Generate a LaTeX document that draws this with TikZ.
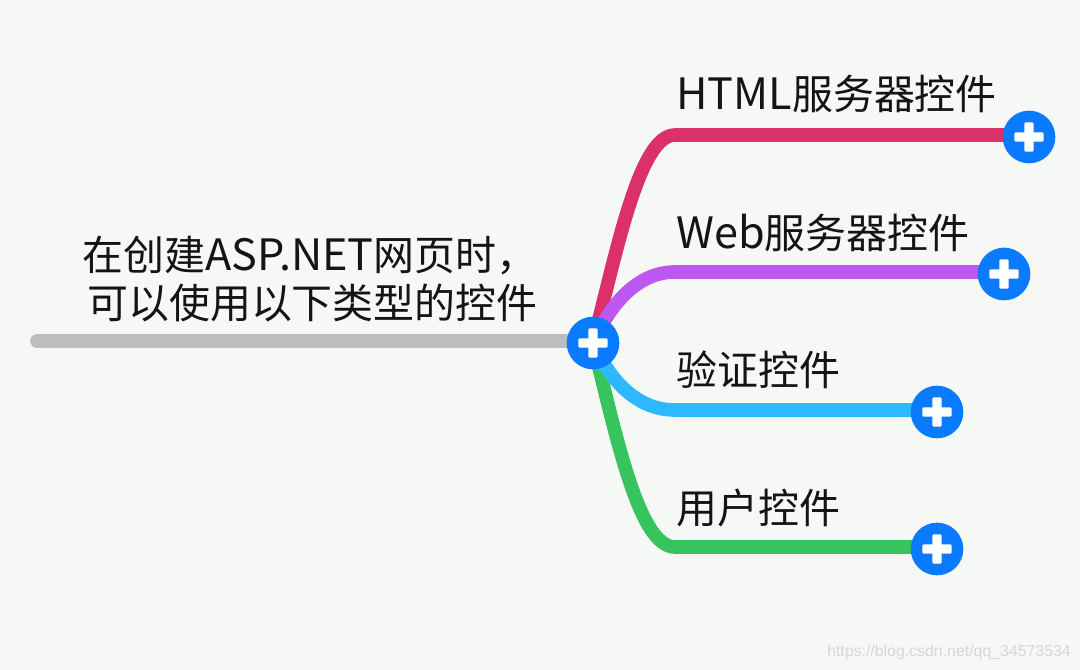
\documentclass[tikz,border=0pt]{standalone}
\usepackage{fontspec}
\setmainfont{Noto Sans CJK SC}
\newfontfamily\wmfont{Liberation Sans}
\newcommand{\lat}[1]{{\fontsize{32.4}{37}\selectfont #1}}
\definecolor{bgc}{HTML}{F6F8F6}
\definecolor{blueb}{HTML}{0A7BFF}
\definecolor{c1}{HTML}{DB3069}
\definecolor{c2}{HTML}{BC57F0}
\definecolor{c3}{HTML}{2DB8FF}
\definecolor{c4}{HTML}{37C45E}
\definecolor{c0}{HTML}{BDBDBD}
\tikzset{
 x=0.75pt,y=-0.75pt,
 branch/.style={line width=10.2pt,line cap=round},
 lbl/.style={font=\fontsize{30.7}{37}\selectfont,anchor=base west,inner sep=0pt,text=black!92},
 plusbtn/.style={circle,fill=blueb,draw=none,minimum size=39.5pt,inner sep=0pt,path picture={
   \fill[white,rounded corners=0.8pt] ([xshift=-11pt,yshift=-3.4pt]path picture bounding box.center) rectangle ++(22pt,6.8pt);
   \fill[white,rounded corners=0.8pt] ([xshift=-3.4pt,yshift=-11pt]path picture bounding box.center) rectangle ++(6.8pt,22pt);
 }},
}
\begin{document}
\begin{tikzpicture}
\useasboundingbox (0,0) rectangle (1080,670);
\fill[bgc] (0,0) rectangle (1080,670);
\coordinate (start) at (37,341);
\coordinate (hubc) at (593,343);
\coordinate (e1) at (675,135);
\coordinate (e2) at (675,272);
\coordinate (e3) at (675,410);
\coordinate (e4) at (675,547);
\coordinate (b1) at (1029,137);
\coordinate (b2) at (1004,274);
\coordinate (b3) at (937,412);
\coordinate (b4) at (937,549);
\draw[branch,c0] (start) -- (start -| hubc);
\draw[branch,c1] (hubc) .. controls (618,245) and (640,135) .. (e1) -- (e1 -| b1);
\draw[branch,c2] (hubc) .. controls (612,300) and (640,272) .. (e2) -- (e2 -| b2);
\draw[branch,c4] (hubc) .. controls (618,445) and (640,547) .. (e4) -- (e4 -| b4);
\draw[branch,c3] (hubc) .. controls (612,385) and (640,410) .. (e3) -- (e3 -| b3);
\node[plusbtn] (hub) at (hubc) {};
\node[plusbtn] (p1) at (b1) {};
\node[plusbtn] (p2) at (b2) {};
\node[plusbtn] (p3) at (b3) {};
\node[plusbtn] (p4) at (b4) {};
\node[lbl] (t1) at (676,110) {\lat{HTML}服务器控件};
\node[lbl] (t2) at (676,248) {\lat{Web}服务器控件};
\node[lbl] (t3) at (676,385) {验证控件};
\node[lbl] (t4) at (676,523) {用户控件};
\node[lbl] (m1) at (82,270) {在创建\lat{ASP.NET}网页时，};
\node[lbl] (m2) at (87,318) {可以使用以下类型的控件};
\node[anchor=base east,inner sep=0pt,font=\wmfont\fontsize{11.9}{14}\selectfont,text=black!16] (wm) at (1071,656) {https://blog.csdn.net/qq\_34573534};
\end{tikzpicture}
\end{document}
